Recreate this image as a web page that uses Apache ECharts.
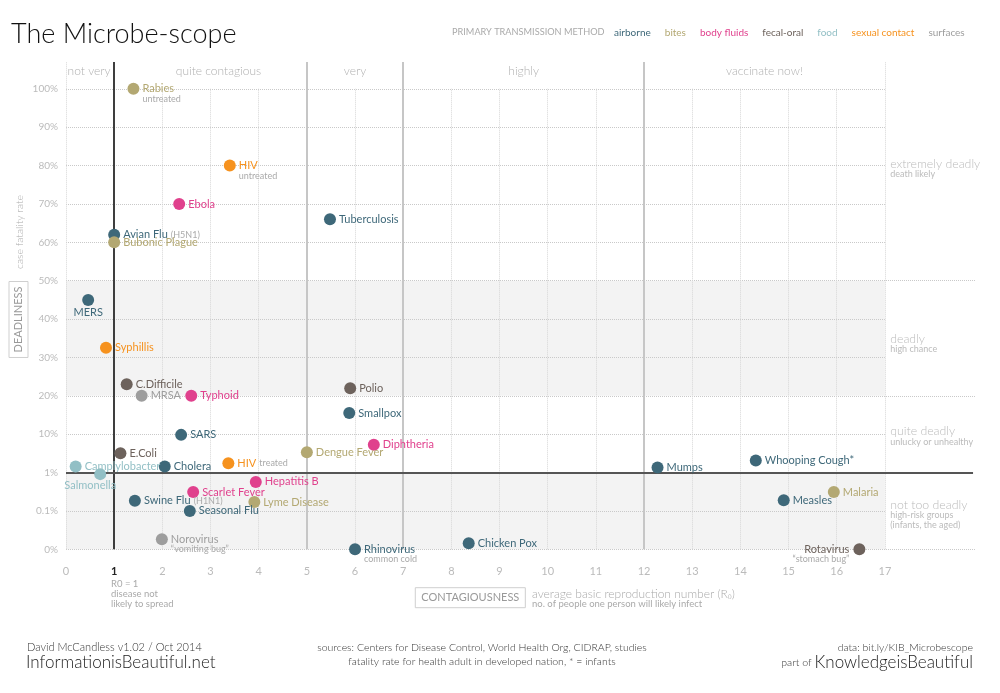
<!DOCTYPE html>
<html><head><meta charset="utf-8">
<script src="https://cdn.jsdelivr.net/npm/echarts@6/dist/echarts.min.js"></script>
<style>html,body{margin:0;padding:0;background:#fff}#c{width:1000px;height:693px}</style>
</head><body><div id="c"></div>
<script>
// ---------- DATA ----------
const methods = ['airborne','bites','body fluids','fecal-oral','food','sexual contact','surfaces'];
const methodColors = ['#3e6879','#b3a872','#e0418d','#6d625c','#92bfc5','#f6921e','#9d9d9d'];

const labels = ['Rabies','HIV','Ebola','Tuberculosis','Avian Flu','Bubonic Plague','MERS','Syphillis',
  'C.Difficile','Polio','MRSA','Typhoid','Smallpox','SARS','Diphtheria','E.Coli','HIV','Dengue Fever',
  'Camplylobacter','Cholera','Salmonella','Mumps','Whooping Cough*','Hepatitis B','Scarlet Fever',
  'Lyme Disease','Swine Flu','Measles','Malaria','Seasonal Flu','Norovirus','Rhinovirus','Chicken Pox','Rotavirus'];
const notes = ['untreated','untreated','','','(H5N1)','','','',
  '','','','','','','','','treated','',
  '','','','','','','',
  '','(H1N1)','','','','\u201cvomiting bug\u201d','common cold','','\u201cstomach bug\u201d'];
// average basic reproduction number (R0)
const r0 = [1.4,3.4,2.35,5.48,1.0,1.0,0.46,0.83,
  1.26,5.9,1.57,2.6,5.88,2.39,6.39,1.13,3.37,5.0,
  0.2,2.05,0.71,12.28,14.32,3.94,2.64,
  3.91,1.43,14.9,15.94,2.57,1.99,6.0,8.36,16.47];
// case fatality rate (%)
const fatality = [100,80,70,66,62,60,45,32.5,
  23,22,20,20,15.5,9.6,5.3,3.2,1.75,3.4,
  1.43,1.43,0.91,1.35,2.05,0.57,0.31,
  0.17,0.185,0.19,0.31,0.1,0.026,0,0.016,0];
const method = ['bites','sexual contact','body fluids','airborne','airborne','bites','airborne','sexual contact',
  'fecal-oral','fecal-oral','surfaces','body fluids','airborne','airborne','body fluids','fecal-oral','sexual contact','bites',
  'food','airborne','food','airborne','airborne','body fluids','body fluids',
  'bites','airborne','airborne','bites','airborne','surfaces','airborne','airborne','fecal-oral'];

const yTickLabels = ['0%','0.1%','1%','10%','20%','30%','40%','50%','60%','70%','80%','90%','100%'];
const xMaxLabel = 17;

const contagionBands = ['not very','quite contagious','very','highly','vaccinate now!'];
const contagionEdges = [0,1,5,7,12,17];
const deadlyBands = ['extremely deadly','deadly','quite deadly','not too deadly'];
const deadlyNotes = ['death likely','high chance','unlucky or unhealthy','high-risk groups\n(infants, the aged)'];

// ---------- SCALE ----------
// deadliness axis: 0%..0.1% linear, 0.1%..10% logarithmic, 10%..100% linear
function toScale(p){
  if (p <= 0.1) return p / 0.1;
  if (p <= 10) return 3 + Math.log10(p / 10);
  return 3 + (p - 10) / 10;
}

// ---------- OPTIONS ----------
const FONT = 'Lato, "Open Sans", sans-serif';
const labelPlace = {
  'MERS': {position:'bottom', distance:1},
  'Salmonella': {position:'bottom', distance:0, offset:[-10,0]},
  'Rotavirus': {position:'left', distance:4}
};
const inlineNotes = new Set(['(H5N1)','(H1N1)','treated']);

const diseaseSeries = methods.map((m, mi) => ({
  name: m, type: 'scatter', z: 5, clip: false, symbolSize: 12,
  itemStyle: {color: methodColors[mi], opacity: 1},
  emphasis: {disabled: true},
  data: labels.map((l, i) => i).filter(i => method[i] === m).map(i => {
    const place = labelPlace[labels[i]] || {};
    const note = notes[i];
    const inline = inlineNotes.has(note);
    const k = (!note || inline) ? 0 : note.split('\n').length;
    let text = '{n|' + labels[i] + '}';
    if (note) text += inline ? ' {s|' + note + '}' : '\n{s|' + note + '}';
    return {
      name: labels[i] + (note ? ' ' + note : ''),
      value: [r0[i], toScale(fatality[i])],
      label: {
        show: true,
        position: place.position || 'right',
        distance: place.distance != null ? place.distance : 3,
        offset: place.offset || [0, k * 4.5],
        formatter: () => text,
        rich: {
          n: {color: methodColors[mi], fontSize: 11, lineHeight: 11, fontFamily: FONT},
          s: {color: '#aaa', fontSize: 9, lineHeight: 9, fontFamily: FONT}
        }
      }
    };
  })
}));

const dotted = {type: 'dotted', color: '#c9c9c9', width: 1};
const lineData = [];
for (let i = 0; i <= 12; i++) {
  if (i === 2) continue;
  const ext = (i === 0 || i === 4 || i === 7);
  lineData.push([{coord: [0, i], lineStyle: dotted}, {coord: [ext ? 18.87 : 17, i]}]);
}
for (let i = 0; i <= 17; i++) {
  if (contagionEdges.includes(i) && i !== 0 && i !== 17) continue;
  lineData.push([{coord: [i, 0], lineStyle: {type: 'dotted', color: '#d6d6d6', width: 1}}, {coord: [i, (i === 0 || i === 17) ? 12.7 : 12]}]);
}
[5, 7, 12].forEach(v => lineData.push([{coord: [v, 0], lineStyle: {type: 'solid', color: '#c6c6c6', width: 2}}, {coord: [v, 12.7]}]));
lineData.push([{coord: [1, 0], lineStyle: {type: 'solid', color: '#2a2a2a', width: 1.8}}, {coord: [1, 12.7]}]);
lineData.push([{coord: [0, 2], lineStyle: {type: 'solid', color: '#555', width: 2}}, {coord: [18.83, 2]}]);

const areaData = [
  [{xAxis: 0, yAxis: 4, itemStyle: {color: '#f3f3f3'}, label: {show: false}}, {xAxis: 17, yAxis: 7}],
  [{xAxis: 0, yAxis: 0, itemStyle: {color: '#f3f3f3'}, label: {show: false}}, {xAxis: 17, yAxis: 2}]
];
contagionBands.forEach((b, i) => {
  areaData.push([{
    name: b, xAxis: contagionEdges[i], yAxis: 12,
    itemStyle: {color: 'rgba(0,0,0,0)'},
    label: {show: true, position: 'inside', offset: [i === 1 ? 8 : (i === 0 ? -1 : 0), -4], color: '#b0b0b0', fontSize: 12, fontWeight: 300, fontFamily: FONT}
  }, {xAxis: contagionEdges[i + 1], yAxis: 12.7}]);
});

const bandYs = [10.04, 5.48, 3.08, 1.16];
const bandSeries = {
  name: 'deadliness bands', type: 'scatter', silent: true, clip: false, symbolSize: 1, z: 3,
  itemStyle: {color: 'rgba(0,0,0,0)'},
  data: deadlyBands.map((b, i) => {
    const k = deadlyNotes[i].split('\n').length;
    return {
      value: [17.1, bandYs[i]],
      label: {
        show: true, position: 'right', distance: 0, offset: [0, k * 5],
        formatter: () => '{n|' + b + '}\n{s|' + deadlyNotes[i] + '}',
        rich: {
          n: {color: '#aaa', fontSize: 12.3, lineHeight: 11, fontWeight: 300, fontFamily: FONT},
          s: {color: '#aaa', fontSize: 9, lineHeight: 10, fontFamily: FONT}
        }
      }
    };
  })
};

const helperSeries = {
  name: 'grid', type: 'scatter', data: [], silent: true, z: 1,
  markArea: {silent: true, data: areaData},
  markLine: {silent: true, symbol: ['none', 'none'], label: {show: false}, emphasis: {disabled: true}, animation: false, data: lineData}
};

const option = {
  backgroundColor: '#fff',
  animation: false,
  textStyle: {fontFamily: FONT},
  title: [
    {text: 'The Microbe-scope', left: 11, top: 21, padding: 0, textStyle: {fontFamily: FONT, fontWeight: 300, fontSize: 27, color: '#111'}},
    {text: 'PRIMARY TRANSMISSION METHOD', left: 452, top: 28, padding: 0, textStyle: {fontFamily: FONT, fontWeight: 'normal', fontSize: 9.2, color: '#aaa'}},
    {text: 'David McCandless v1.02 / Oct 2014', left: 27, top: 642, padding: 0, textStyle: {fontFamily: FONT, fontWeight: 300, fontSize: 11, color: '#333'}},
    {text: 'InformationisBeautiful.net', left: 26, top: 654, padding: 0, textStyle: {fontFamily: FONT, fontWeight: 300, fontSize: 17, color: '#222'}},
    {text: 'sources: Centers for Disease Control, World Health Org, CIDRAP, studies\nfatality rate for health adult in developed nation, * = infants',
      left: 482, top: 641, padding: 0, textAlign: 'center', textStyle: {fontFamily: FONT, fontWeight: 300, fontSize: 10.5, lineHeight: 14, color: '#333'}},
    {text: 'data: bit.ly/KIB_Microbescope', right: 27, top: 642, padding: 0,
      textStyle: {fontFamily: FONT, fontWeight: 300, fontSize: 10.5, color: '#333'}},
    {text: '{s|part of }{b|KnowledgeisBeautiful}', right: 27, top: 654, padding: 0,
      textStyle: {rich: {
        s: {fontFamily: FONT, fontWeight: 300, fontSize: 10.5, color: '#333'},
        b: {fontFamily: FONT, fontWeight: 300, fontSize: 17, color: '#222'}
      }}}
  ],
  legend: {
    data: methods.map((m, i) => ({name: m, textStyle: {color: methodColors[i]}})),
    left: 609, top: 28, padding: 0, itemWidth: 0, itemHeight: 0, itemGap: 9,
    selectedMode: false, textStyle: {fontFamily: FONT, fontSize: 10}
  },
  grid: {left: 66, right: 18.77, top: 62, bottom: 143.7, containLabel: false},
  xAxis: {
    type: 'value', min: 0, max: 19, interval: 1,
    axisLine: {show: false}, axisTick: {show: false}, splitLine: {show: false},
    axisLabel: {
      margin: 17, color: '#bbb', fontSize: 11, fontFamily: FONT,
      formatter: v => v === 1 ? '{b|1}' : (v <= xMaxLabel ? String(v) : ''),
      rich: {b: {color: '#222', fontWeight: 'bold', fontSize: 11, fontFamily: FONT}}
    }
  },
  yAxis: {
    type: 'value', min: 0, max: 12.7, interval: 1,
    axisLine: {show: false}, axisTick: {show: false}, splitLine: {show: false},
    axisLabel: {
      margin: 8, color: '#bbb', fontSize: 10, fontFamily: FONT,
      formatter: v => {const r = Math.round(v); return Math.abs(v - r) < 1e-6 && yTickLabels[r] ? yTickLabels[r] : '';}
    }
  },
  graphic: [
    {type: 'text', x: 20, y: 232, rotation: Math.PI / 2, silent: true,
      style: {text: 'case fatality rate', fill: '#aaa', font: '300 10.5px ' + FONT, align: 'center', verticalAlign: 'middle'}},
    {type: 'text', x: 18.5, y: 319.5, rotation: Math.PI / 2, silent: true,
      style: {text: 'DEADLINESS', fill: '#999', font: '11px ' + FONT, align: 'center', verticalAlign: 'middle',
        borderColor: '#cfcfcf', borderWidth: 1, padding: [4, 5], lineHeight: 11}},
    {type: 'text', x: 470.3, y: 597.7, silent: true,
      style: {text: 'CONTAGIOUSNESS', fill: '#999', font: '11px ' + FONT, align: 'center', verticalAlign: 'middle',
        borderColor: '#cfcfcf', borderWidth: 1, padding: [4.5, 6], lineHeight: 11}},
    {type: 'text', x: 532, y: 594, silent: true,
      style: {text: 'average basic reproduction number (R\u2080)', fill: '#aaa', font: '300 12px ' + FONT, verticalAlign: 'middle'}},
    {type: 'text', x: 532, y: 604, silent: true,
      style: {text: 'no. of people one person will likely infect', fill: '#aaa', font: '9.5px ' + FONT, verticalAlign: 'middle'}},
    {type: 'text', x: 111, y: 579, silent: true,
      style: {text: 'R0 = 1\ndisease not\nlikely to spread', fill: '#aaa', font: '9.5px ' + FONT, lineHeight: 10, verticalAlign: 'top'}}
  ],
  series: [helperSeries, bandSeries].concat(diseaseSeries)
};

const chart = echarts.init(document.getElementById('c'));
chart.setOption(option);
</script>
</body></html>
